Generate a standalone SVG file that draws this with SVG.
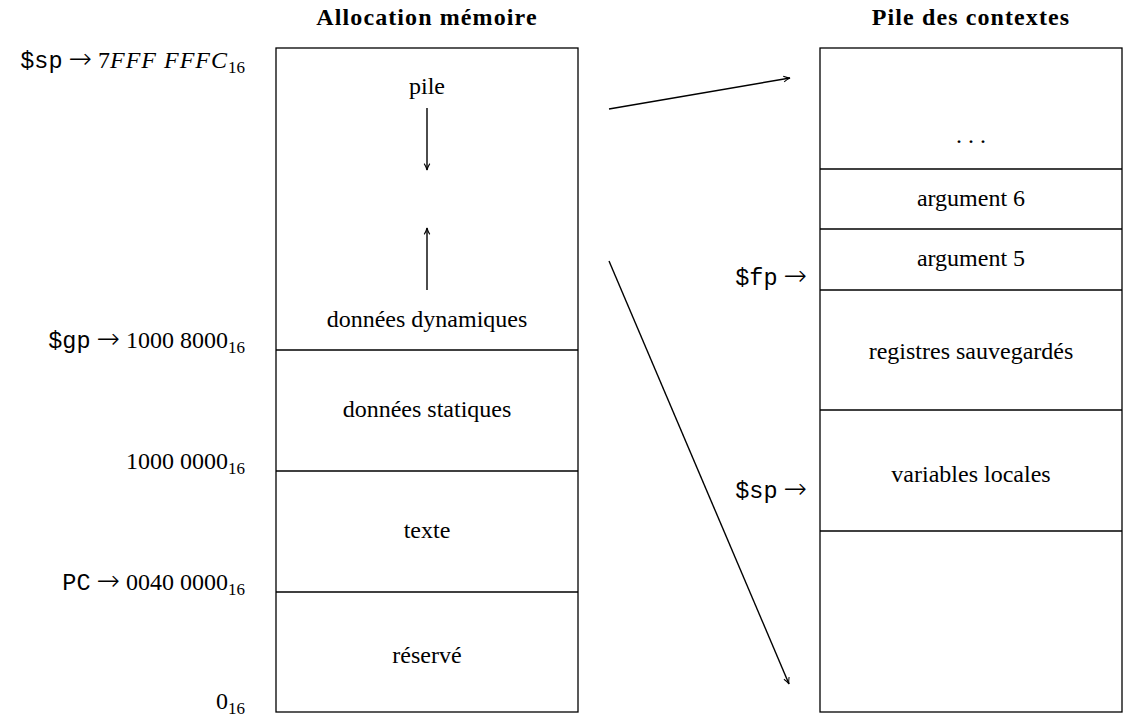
<svg xmlns="http://www.w3.org/2000/svg" width="1125" height="716" viewBox="0 0 1125 716">
<style>
text{font-family:"Liberation Serif","DejaVu Serif",serif;font-size:24px;fill:#000}
.c{text-anchor:middle}
.e{text-anchor:end}
.b{font-weight:bold;font-size:24px;letter-spacing:1.1px}
.m{font-family:"Liberation Mono","DejaVu Sans Mono",monospace;font-size:23.5px}
.a{font-family:"DejaVu Sans",sans-serif;font-size:28px;font-weight:200}
.i{font-style:italic;letter-spacing:1px}
.s{font-size:17px;letter-spacing:0}
.box{fill:none;stroke:#000;stroke-width:1.3}
.ln{stroke:#000;stroke-width:1.3}
.ar{stroke:#000;stroke-width:1.4;fill:none;marker-end:url(#ah)}
</style>
<defs>
<marker id="ah" viewBox="0 0 10 10" refX="9" refY="5" markerWidth="8" markerHeight="8" orient="auto" markerUnits="userSpaceOnUse">
<path d="M1,1.5 Q5,4 9,5 Q5,6 1,8.5" fill="none" stroke="#000" stroke-width="1.3"/>
</marker>
</defs>
<rect width="1125" height="716" fill="#fff"/>
<text class="c b" x="427" y="25">Allocation mémoire</text>
<text class="c b" x="971" y="25">Pile des contextes</text>
<g id="memoire">
<rect class="box" x="276" y="48" width="302" height="664"/>
<line class="ln" x1="276" y1="350" x2="578" y2="350"/>
<line class="ln" x1="276" y1="471" x2="578" y2="471"/>
<line class="ln" x1="276" y1="592" x2="578" y2="592"/>
<text class="c" x="427" y="94">pile</text>
<text class="c" x="427" y="327">données dynamiques</text>
<text class="c" x="427" y="417">données statiques</text>
<text class="c" x="427" y="538">texte</text>
<text class="c" x="427" y="663">réservé</text>
</g>
<g id="adresses">
<text class="e" x="245" y="68" xml:space="preserve"><tspan class="m">$sp</tspan> <tspan class="a">→</tspan> 7<tspan class="i">FFF FFFC</tspan><tspan class="s" dy="5">16</tspan></text>
<text class="e" x="245" y="348" xml:space="preserve"><tspan class="m">$gp</tspan> <tspan class="a">→</tspan> 1000 8000<tspan class="s" dy="5">16</tspan></text>
<text class="e" x="245" y="469">1000 0000<tspan class="s" dy="5">16</tspan></text>
<text class="e" x="245" y="590" xml:space="preserve"><tspan class="m">PC</tspan> <tspan class="a">→</tspan> 0040 0000<tspan class="s" dy="5">16</tspan></text>
<text class="e" x="245" y="709">0<tspan class="s" dy="5">16</tspan></text>
</g>
<g id="contextes">
<rect class="box" x="820" y="48" width="302" height="664"/>
<line class="ln" x1="820" y1="169" x2="1122" y2="169"/>
<line class="ln" x1="820" y1="229" x2="1122" y2="229"/>
<line class="ln" x1="820" y1="290" x2="1122" y2="290"/>
<line class="ln" x1="820" y1="410" x2="1122" y2="410"/>
<line class="ln" x1="820" y1="531" x2="1122" y2="531"/>
<text class="c" x="971" y="143">. . .</text>
<text class="c" x="971" y="206">argument 6</text>
<text class="c" x="971" y="266">argument 5</text>
<text class="c" x="971" y="359">registres sauvegardés</text>
<text class="c" x="971" y="482">variables locales</text>
</g>
<g id="pointeurs">
<text class="e" x="807" y="285" xml:space="preserve"><tspan class="m">$fp</tspan> <tspan class="a">→</tspan></text>
<text class="e" x="807" y="498" xml:space="preserve"><tspan class="m">$sp</tspan> <tspan class="a">→</tspan></text>
</g>
<g id="connecteurs">
<line class="ar" x1="427" y1="108" x2="427" y2="170"/>
<line class="ar" x1="427" y1="290" x2="427" y2="228"/>
<line class="ar" x1="609" y1="109" x2="790" y2="78"/>
<line class="ar" x1="609" y1="261" x2="789" y2="684"/>
</g>
</svg>
